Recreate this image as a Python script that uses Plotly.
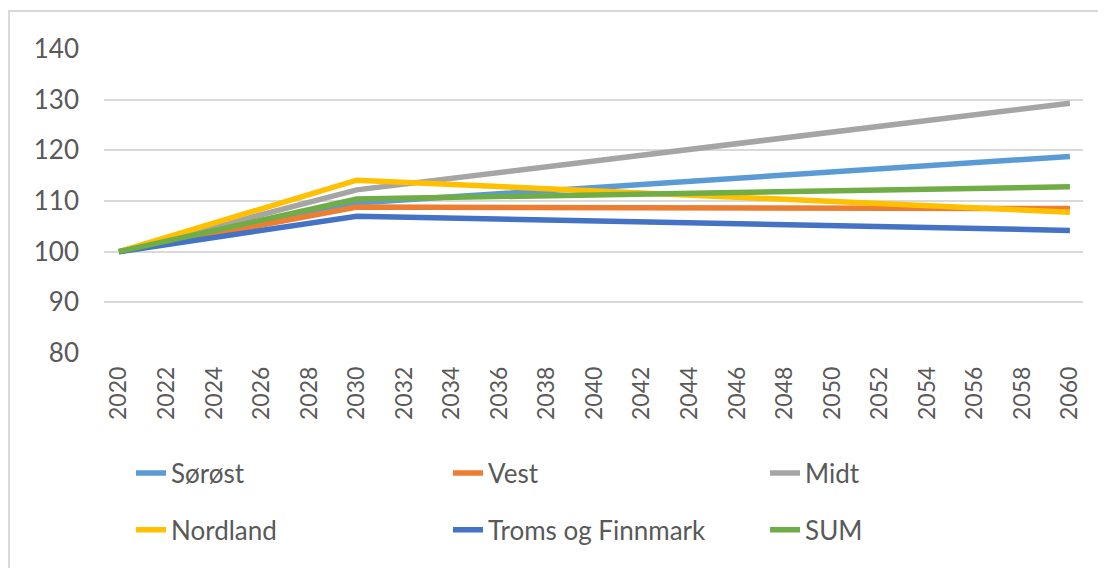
import plotly.graph_objects as go

years = [2020, 2030, 2060]
sorost = [100, 109.6, 118.8]
vest = [100, 108.8, 108.5]
midt = [100, 112.2, 129.3]
nordland = [100, 114.1, 107.8]
troms = [100, 107.0, 104.2]
total = [100, 110.4, 112.8]

names = ["Sørøst", "Vest", "Midt", "Nordland", "Troms og Finnmark", "SUM"]
series = [sorost, vest, midt, nordland, troms, total]
colors = ["#5B9BD5", "#ED7D31", "#A5A5A5", "#FFC000", "#4472C4", "#70AD47"]
legend_ids = ["legend", "legend", "legend", "legend2", "legend2", "legend2"]

FONT = "Lato"
TXT = "#595959"

fig = go.Figure()
for n, s, c, lg in zip(names, series, colors, legend_ids):
    fig.add_trace(go.Scatter(x=years, y=s, name=n, mode="lines",
                             line=dict(color=c, width=5.5),
                             legend=lg))

legend_common = dict(orientation="h", xanchor="left", yanchor="middle",
                     font=dict(family=FONT, size=26, color=TXT),
                     entrywidth=272, entrywidthmode="pixels",
                     bgcolor="rgba(0,0,0,0)", itemwidth=30,
                     tracegroupgap=0)

fig.update_layout(
    width=1106, height=568,
    margin=dict(l=96, r=31, t=41, b=223, autoexpand=False),
    paper_bgcolor="white", plot_bgcolor="white",
    showlegend=True,
    legend=dict(x=0.0276, y=-0.395, **legend_common),
    legend2=dict(x=0.0276, y=-0.582, **legend_common),
    xaxis=dict(range=[2019.37, 2060.55], tickmode="linear", tick0=2020, dtick=2,
               tickangle=-90, showgrid=False, zeroline=False, showline=False,
               tickfont=dict(family=FONT, size=23, color=TXT),
               ticklabelstandoff=8),
    yaxis=dict(range=[80, 140], tickmode="linear", tick0=80, dtick=10,
               showgrid=True, gridcolor="#D9D9D9", gridwidth=2,
               zeroline=False, showline=False,
               tickfont=dict(family=FONT, size=26, color=TXT),
               ticklabelstandoff=24),
    shapes=[dict(type="rect", xref="paper", yref="paper",
                 x0=-0.097, x1=1.05, y0=-0.8, y1=1.125,
                 line=dict(color="#D9D9D9", width=2), layer="below")],
)

fig.write_html("out.html")
